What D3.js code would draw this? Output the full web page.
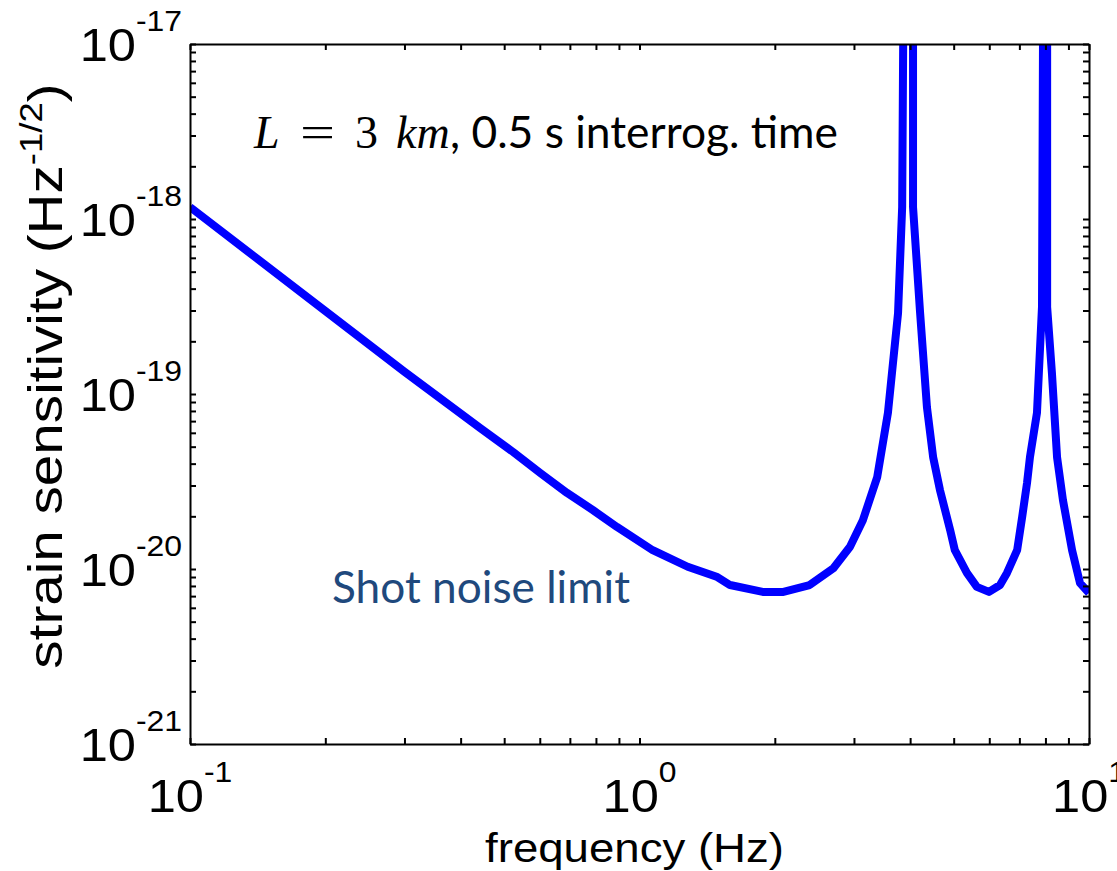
<!DOCTYPE html>
<html>
<head>
<meta charset="utf-8">
<script src="https://cdn.jsdelivr.net/npm/d3@7"></script>
<style>
	body { margin: 0; background: #fff; }
	svg { display: block; }
</style>
</head>
<body>
<div id="chart-area"></div>
<script>
// Strain sensitivity curve
var freq = [0.1, 0.2, 0.3, 0.442, 0.523, 0.601, 0.690, 0.788, 0.891, 1.07,
	1.28, 1.49, 1.59, 1.88, 2.09, 2.39, 2.70, 2.94, 3.14, 3.38,
	3.57, 3.76, 3.84, 3.86, 3.96, 4.06, 4.06, 4.21, 4.36, 4.50,
	4.66, 4.91, 5.03, 5.35, 5.63, 5.99, 6.34, 6.57, 6.92, 7.10,
	7.28, 7.39, 7.66, 7.86, 7.90, 7.98, 8.07, 8.07, 8.27, 8.49,
	8.75, 9.17, 9.55, 10];
var strain = [1.17e-18, 2.98e-19, 1.34e-19, 6.4e-20, 4.67e-20, 3.54e-20, 2.72e-20, 2.17e-20, 1.74e-20, 1.28e-20,
	1.03e-20, 9.0e-21, 8.1e-21, 7.4e-21, 7.4e-21, 8.1e-21, 1.01e-20, 1.34e-20, 1.9e-20, 3.36e-20,
	7.8e-20, 2.9e-19, 1.17e-18, 1e-17, 1e-14, 1e-17, 1.17e-18, 2.9e-19, 8.4e-20, 4.36e-20,
	2.83e-20, 1.67e-20, 1.28e-20, 9.5e-21, 7.9e-21, 7.4e-21, 8.1e-21, 9.5e-21, 1.28e-20, 1.98e-20,
	3.1e-20, 4.36e-20, 7.8e-20, 3.14e-19, 1e-17, 1e-14, 1e-17, 3.14e-19, 1.32e-19, 4.36e-20,
	2.48e-20, 1.28e-20, 8.3e-21, 7.3e-21];

// Axis decades (tick labels are 10^exp)
var xTickExps = [-1, 0, 1];
var yTickExps = [-21, -20, -19, -18, -17];

var xTitle = "frequency (Hz)";
var yTitle = "strain sensitivity (Hz";
var yTitleExp = "-1/2";
var note = "Shot noise limit";

var W = 1117, H = 871;
var margin = { top: 44, right: 28, bottom: 127, left: 190 };
var width = W - margin.left - margin.right,
	height = H - margin.top - margin.bottom;

var svg = d3.select("#chart-area")
	.append("svg")
		.attr("width", W)
		.attr("height", H);

var g = svg.append("g")
	.attr("transform", `translate(${margin.left},${margin.top})`);

// log scales
var x = d3.scaleLog().domain([0.1, 10]).range([0, width]);
var y = d3.scaleLog().domain([1e-21, 1e-17]).range([height, 0]);

svg.append("defs").append("clipPath")
	.attr("id", "plot-clip")
	.append("rect")
		.attr("width", width)
		.attr("height", height);

// the curve
var pts = freq.map((f, i) => [f, strain[i]]);
var line = d3.line()
	.x((d) => x(d[0]))
	.y((d) => y(d[1]));

g.append("path")
	.datum(pts)
	.attr("clip-path", "url(#plot-clip)")
	.attr("fill", "none")
	.attr("stroke", "#0000ff")
	.attr("stroke-width", 8)
	.attr("stroke-linejoin", "round")
	.attr("d", line);

// box axes, ticks pointing inward, no labels
function styleAxis(sel) {
	sel.selectAll(".domain").attr("stroke", "#000").attr("stroke-width", 2);
	sel.selectAll(".tick line").attr("stroke", "#000").attr("stroke-width", 2);
	sel.selectAll(".tick text").remove();
}

g.append("g")
	.attr("transform", `translate(0,${height})`)
	.call(d3.axisBottom(x).tickValues(x.ticks()).tickSizeInner(-6).tickSizeOuter(0))
	.call(styleAxis);
g.append("g")
	.call(d3.axisTop(x).tickValues(x.ticks()).tickSizeInner(-6).tickSizeOuter(0))
	.call(styleAxis);
g.append("g")
	.call(d3.axisLeft(y).tickValues(y.ticks()).tickSizeInner(-6).tickSizeOuter(0))
	.call(styleAxis);
g.append("g")
	.attr("transform", `translate(${width},0)`)
	.call(d3.axisRight(y).tickValues(y.ticks()).tickSizeInner(-6).tickSizeOuter(0))
	.call(styleAxis);

var sans = "'Liberation Sans', Arial, sans-serif";

// power-of-ten tick labels
function powLabel(tx, ty, exp, anchor) {
	var t = g.append("text")
		.attr("transform", `translate(${tx},${ty}) scale(1.1,1)`)
		.attr("text-anchor", anchor)
		.attr("font-family", sans)
		.attr("font-size", 46)
		.attr("fill", "#000");
	t.append("tspan").text("10");
	t.append("tspan").attr("dy", -30).attr("font-size", 29).text(exp);
}

xTickExps.forEach((e) => powLabel(x(Math.pow(10, e)), height + 68, e, "middle"));
yTickExps.forEach((e) => powLabel(-8, y(Math.pow(10, e)) + 17, e, "end"));

// axis titles
g.append("text")
	.attr("transform", `translate(${x(1) - 5},${height + 118}) scale(1.14,1)`)
	.attr("text-anchor", "middle")
	.attr("font-family", sans)
	.attr("font-size", 40)
	.text(xTitle);

var yt = g.append("text")
	.attr("transform", `translate(-128,332) rotate(-90) scale(1.18,1)`)
	.attr("text-anchor", "middle")
	.attr("font-family", sans)
	.attr("font-size", 48);
yt.append("tspan").text(yTitle);
yt.append("tspan").attr("dy", -20).attr("font-size", 31).text(yTitleExp);
yt.append("tspan").attr("dy", 20).text(")");

// annotation: "L = 3 km, 0.5 s interrog. time"
var serif = "'Liberation Serif', 'DejaVu Serif', serif";
var ann = g.append("g").attr("transform", `translate(0,104)`);
ann.append("text").attr("x", 64).attr("font-family", serif).attr("font-style", "italic")
	.attr("font-size", 46).text("L");
ann.append("text").attr("transform", "translate(110,0) scale(1.35,1)").attr("font-family", serif)
	.attr("font-size", 46).text("=");
ann.append("text").attr("x", 165).attr("font-family", serif)
	.attr("font-size", 46).text("3");
ann.append("text").attr("x", 206).attr("font-family", serif).attr("font-style", "italic")
	.attr("font-size", 46).text("km");
ann.append("text").attr("x", 260).attr("font-family", "Lato, 'Open Sans', sans-serif")
	.attr("font-size", 44)
	.attr("textLength", 388).attr("lengthAdjust", "spacingAndGlyphs")
	.text(", 0.5 s interrog. time");

// note label
g.append("text")
	.attr("x", 142)
	.attr("y", 559)
	.attr("font-family", "Lato, 'Open Sans', sans-serif")
	.attr("font-size", 44)
	.attr("fill", "#1f497d")
	.attr("textLength", 298).attr("lengthAdjust", "spacingAndGlyphs")
	.text(note);
</script>
</body>
</html>
